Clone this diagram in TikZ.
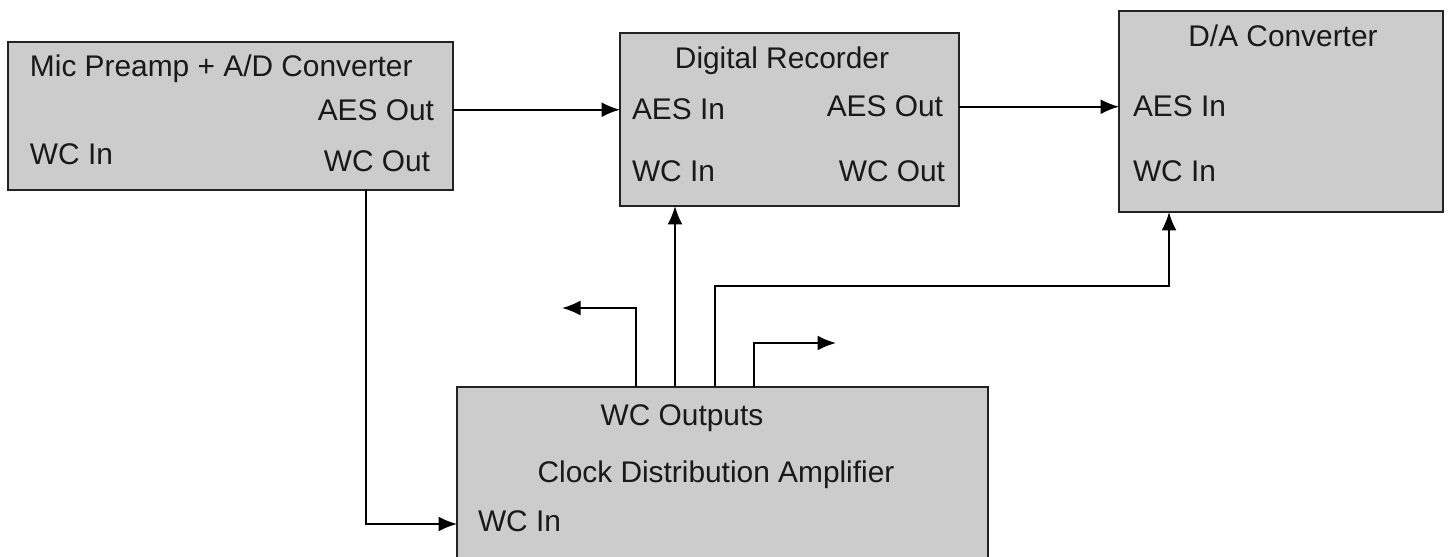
\documentclass[tikz,border=0pt]{standalone}
\usepackage{fontspec}
\setmainfont{Liberation Sans}
\usetikzlibrary{arrows.meta, positioning, calc}
\definecolor{boxgray}{RGB}{204,204,204}
\definecolor{edgegray}{RGB}{35,35,35}
\newcommand{\lbl}{\fontsize{17}{20}\selectfont}

\begin{document}
\begin{tikzpicture}[x=0.02cm, y=-0.02cm]
        \tikzset{ unit/.style ={draw=edgegray, line width=1.1pt, fill=boxgray, inner sep=0pt, outer sep=0pt} }
        \tikzset{ port/.style ={inner sep=0pt, outer sep=0pt, text=black!90, font=\lbl} }

        \tikzstyle{lnk}=[-{Latex[length=0.37cm,width=0.3cm]}, line width=1.1pt, draw=black]

        \clip (0,0) rectangle (1449,557);

        % units
        \node[unit, minimum width=8.90cm,  minimum height=2.96cm] (mic) at (230.5,116)   {};
        \node[unit, minimum width=6.78cm,  minimum height=3.46cm] (rec) at (789.5,119.5) {};
        \node[unit, minimum width=6.48cm,  minimum height=4.02cm] (dac) at (1281,111.5)  {};
        \node[unit, minimum width=10.62cm, minimum height=4.26cm] (cda) at (722.5,493.5) {};

        % labels
        \node[port, anchor=base west] (mic_name)  at (30,77)   {Mic Preamp + A/D Converter};
        \node[port, anchor=base east] (mic_aesout) at (434,121) {AES Out};
        \node[port, anchor=base west] (mic_wcin)  at (30,165)  {WC In};
        \node[port, anchor=base east] (mic_wcout) at (430,172) {WC Out};

        \node[port, anchor=base]      (rec_name)  at (782,69)  {Digital Recorder};
        \node[port, anchor=base west] (rec_aesin) at (632,120) {AES In};
        \node[port, anchor=base east] (rec_aesout) at (943,117) {AES Out};
        \node[port, anchor=base west] (rec_wcin)  at (632,182) {WC In};
        \node[port, anchor=base east] (rec_wcout) at (945,182) {WC Out};

        \node[port, anchor=base]      (dac_name)  at (1283,47)  {D/A Converter};
        \node[port, anchor=base west] (dac_aesin) at (1133,117) {AES In};
        \node[port, anchor=base west] (dac_wcin)  at (1133,182) {WC In};

        \node[port, anchor=base]      (cda_outs)  at (682,425) {WC Outputs};
        \node[port, anchor=base]      (cda_name)  at (716,482) {Clock Distribution Amplifier};
        \node[port, anchor=base west] (cda_wcin)  at (478,531) {WC In};

        % audio
        \draw[lnk] (mic.east |- rec_aesin) -- (rec.west |- rec_aesin);
        \draw[lnk] (rec.east |- rec_aesout) -- (dac.west |- rec_aesout);

        % word clock
        \coordinate (wcbend) at (366,524);
        \draw[lnk] (mic.south -| wcbend) |- (cda.west |- wcbend);

        \coordinate (ka) at (636,308);
        \coordinate (outl) at (562,308);
        \draw[lnk] (cda.north -| ka) |- (outl);

        \coordinate (kb) at (675,300);
        \draw[lnk] (cda.north -| kb) -- (rec.south -| kb);

        \coordinate (kc) at (715,286);
        \coordinate (kd) at (1169,286);
        \draw[lnk] (cda.north -| kc) -- (kc) -- (kd) -- (dac.south -| kd);

        \coordinate (ke) at (754,343);
        \coordinate (outr) at (836,343);
        \draw[lnk] (cda.north -| ke) |- (outr);
\end{tikzpicture}
\end{document}
